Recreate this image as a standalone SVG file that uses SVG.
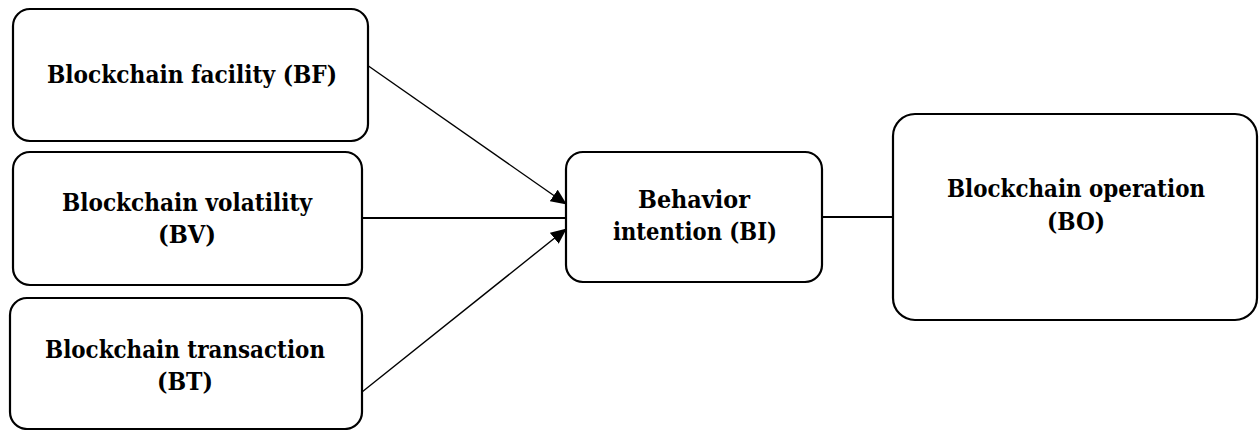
<svg xmlns="http://www.w3.org/2000/svg" width="1259" height="430" viewBox="0 0 1259 430">
<style>
.box{fill:#fff;stroke:#000;stroke-width:2.2}
.t{font-family:'DejaVu Serif',serif;font-weight:bold;font-size:24px;fill:#000;text-anchor:middle}
.c{stroke:#000;fill:none}
</style>
<defs>
<marker id="ah" markerWidth="16" markerHeight="14" refX="15" refY="7" orient="auto" markerUnits="userSpaceOnUse">
<path d="M0,0 L16,7 L0,14 Z" fill="#000"/>
</marker>
</defs>
<rect width="1259" height="430" fill="#fff"/>
<g id="connectors">
<line class="c" stroke-width="1.4" x1="367" y1="65" x2="566" y2="204" marker-end="url(#ah)"/>
<line class="c" stroke-width="2.2" x1="362" y1="218" x2="566" y2="218"/>
<line class="c" stroke-width="1.4" x1="362" y1="392" x2="566" y2="229" marker-end="url(#ah)"/>
<line class="c" stroke-width="2.2" x1="822" y1="217" x2="893" y2="217"/>
</g>
<g id="BF">
<rect class="box" x="13" y="9" width="355" height="132" rx="17"/>
<text class="t" x="192" y="83" textLength="290" lengthAdjust="spacingAndGlyphs">Blockchain facility (BF)</text>
</g>
<g id="BV">
<rect class="box" x="13" y="152" width="349" height="133" rx="17"/>
<text class="t" x="187" y="211" textLength="250" lengthAdjust="spacingAndGlyphs">Blockchain volatility</text>
<text class="t" x="187" y="243" textLength="58" lengthAdjust="spacingAndGlyphs">(BV)</text>
</g>
<g id="BT">
<rect class="box" x="10" y="298" width="352" height="131" rx="17"/>
<text class="t" x="185" y="358" textLength="280" lengthAdjust="spacingAndGlyphs">Blockchain transaction</text>
<text class="t" x="185" y="390" textLength="56" lengthAdjust="spacingAndGlyphs">(BT)</text>
</g>
<g id="BI">
<rect class="box" x="566" y="152" width="256" height="130" rx="17"/>
<text class="t" x="694" y="208" textLength="112" lengthAdjust="spacingAndGlyphs">Behavior</text>
<text class="t" x="695" y="240" textLength="164" lengthAdjust="spacingAndGlyphs">intention (BI)</text>
</g>
<g id="BO">
<rect class="box" x="893" y="114" width="364" height="206" rx="22"/>
<text class="t" x="1076" y="197" textLength="258" lengthAdjust="spacingAndGlyphs">Blockchain operation</text>
<text class="t" x="1076" y="230" textLength="58" lengthAdjust="spacingAndGlyphs">(BO)</text>
</g>
</svg>
